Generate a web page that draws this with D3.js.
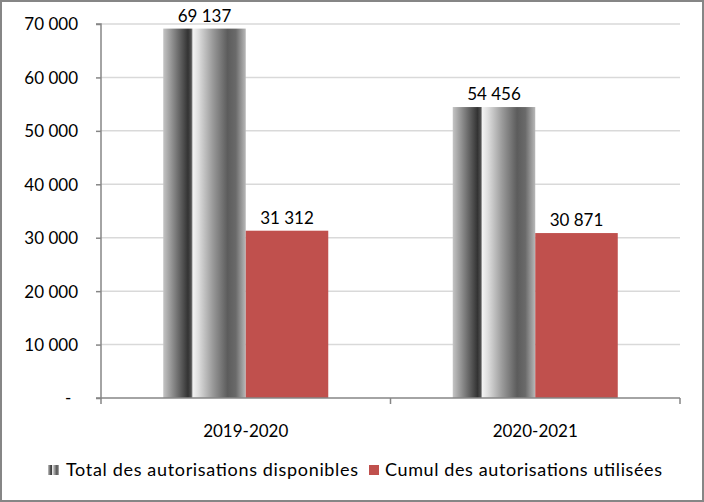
<!DOCTYPE html>
<html><head><meta charset="utf-8">
<script src="https://cdn.jsdelivr.net/npm/d3@7"></script>
<style>body{margin:0;background:#fff}svg{display:block}text{font-family:Lato,"Open Sans",sans-serif;fill:#000}</style>
</head><body><svg id="c" width="704" height="502"></svg>
<script>
const categories = ["2019-2020", "2020-2021"];
const seriesNames = ["Total des autorisations disponibles", "Cumul des autorisations utilisées"];
const totalDisponibles = [69137, 54456];
const cumulUtilisees = [31312, 30871];
const yTicks = [0, 10000, 20000, 30000, 40000, 50000, 60000, 70000];

const W = 704, H = 502;
const svg = d3.select("#c");
const fs = 17;

const defs = svg.append("defs");
const g = defs.append("linearGradient").attr("id","gray").attr("x1","0").attr("x2","1").attr("y1","0").attr("y2","0");
[[0,"#c4c4c4"],[0.12,"#8a8a8a"],[0.3,"#333333"],[0.34,"#505050"],[0.36,"#f2f2f2"],[0.42,"#e0e0e0"],[0.6,"#9a9a9a"],[0.78,"#5c5c5c"],[0.88,"#6a6a6a"],[1,"#b8b8b8"]]
  .forEach(([o,c]) => g.append("stop").attr("offset",o).attr("stop-color",c));

svg.append("rect").attr("x",1).attr("y",1).attr("width",W-2).attr("height",H-2).attr("fill","#fff").attr("stroke","#868686").attr("stroke-width",2);

const x0 = 101, x1 = 680, yTop = 24, yBot = 398;
const y = d3.scaleLinear().domain([0,70000]).range([yBot,yTop]);
const x = d3.scaleBand().domain(categories).range([x0,x1]).padding(0);
const bw = x.bandwidth();
const xs = d3.scaleBand().domain([0,1]).range([bw*0.215, bw*0.785]).padding(0);

// gridlines
svg.append("g").selectAll("line").data(yTicks.filter(d=>d>0)).join("line")
  .attr("x1",x0).attr("x2",x1).attr("y1",d=>y(d)).attr("y2",d=>y(d))
  .attr("stroke","#d9d9d9").attr("stroke-width",1.5);

// bars
const data = [totalDisponibles, cumulUtilisees];
const grp = svg.append("g");
categories.forEach((c,i)=>{
  data.forEach((s,j)=>{
    grp.append("rect").attr("x",x(c)+xs(j)).attr("y",y(s[i])).attr("width",xs.bandwidth()).attr("height",yBot-y(s[i]))
      .attr("fill", j===0 ? "url(#gray)" : "#c0504d");
    grp.append("text").attr("x",x(c)+xs(j)+xs.bandwidth()/2).attr("y",y(s[i])-7).attr("text-anchor","middle")
      .attr("font-size",fs).text(d3.format(",")(s[i]).replace(/,/g," "));
  });
});

// y axis
const yAxis = d3.axisLeft(y).tickValues(yTicks).tickSize(5).tickPadding(18)
  .tickFormat(d => d===0 ? "-" : d3.format(",")(d).replace(/,/g," "));
const ya = svg.append("g").attr("transform",`translate(${x0},0)`).call(yAxis);
ya.selectAll("path,line").attr("stroke","#868686").attr("stroke-width",1.5);
ya.select(".domain").attr("d",`M-5,${yTop}H0V${yBot}H-5`);
ya.selectAll("text").attr("font-size",fs).attr("font-family","Lato").attr("fill","#000").attr("dy","0.35em");
ya.selectAll(".tick").filter(d=>d===0).select("text").attr("text-anchor","start").attr("x",-36);

// x axis
const xa = svg.append("g").attr("transform",`translate(0,${yBot})`);
xa.append("line").attr("x1",x0).attr("x2",x1).attr("stroke","#868686").attr("stroke-width",1.5);
xa.selectAll(".t").data([x0, x0+bw, x1]).join("line").attr("x1",d=>d).attr("x2",d=>d).attr("y1",0).attr("y2",6)
  .attr("stroke","#868686").attr("stroke-width",1.5);
xa.selectAll("text").data(categories).join("text").attr("x",d=>x(d)+bw/2).attr("y",39)
  .attr("text-anchor","middle").attr("font-size",fs).text(d=>d);

// legend
const leg = svg.append("g");
const items = [{name:seriesNames[0],fill:"url(#gray)",ix:48,iw:11,tx:66,tl:292},{name:seriesNames[1],fill:"#c0504d",ix:369,iw:10,tx:385,tl:277}];
items.forEach(it=>{
  leg.append("rect").attr("x",it.ix).attr("y",465).attr("width",it.iw).attr("height",10).attr("fill",it.fill);
  leg.append("text").attr("x",it.tx).attr("y",476).attr("font-size",18)
    .attr("textLength",it.tl).attr("lengthAdjust","spacing").text(it.name);
});
</script></body></html>
